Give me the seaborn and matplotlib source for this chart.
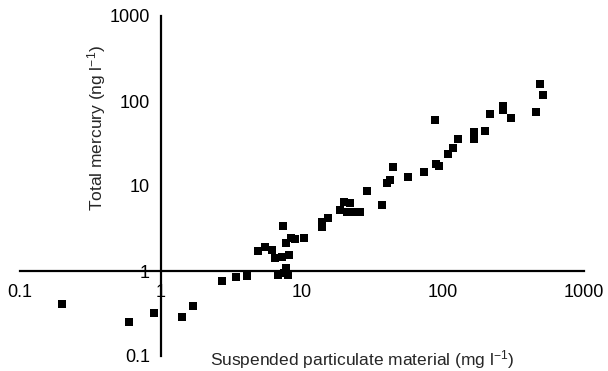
import matplotlib
matplotlib.use("Agg")
import matplotlib.pyplot as plt
import seaborn as sns
import pandas as pd

# Suspended particulate material (mg l-1)
spm = [0.198, 0.596, 0.897, 1.40, 1.69, 2.69, 3.39, 4.07, 6.8, 7.4, 7.7, 8.0,
       4.9, 5.47, 6.1, 6.44, 7.2, 8.1, 7.3, 7.7, 8.3, 8.9, 10.3,
       13.8, 15.3, 13.8, 18.6, 19.9, 21.9, 20.7, 23.0, 25.8, 28.8, 36.7,
       39.8, 42.0, 44.0, 56.3, 73.8, 88.2, 89.0, 93.5, 109, 117, 128.5,
       166, 166, 198.6, 215, 268, 268, 303, 457, 488, 509]
# Total mercury (ng l-1)
hg = [0.41, 0.25, 0.32, 0.29, 0.39, 0.76, 0.86, 0.87, 0.90, 0.94, 1.08, 0.90,
      1.73, 1.93, 1.77, 1.41, 1.47, 1.55, 3.41, 2.15, 2.45, 2.36, 2.43,
      3.8, 4.17, 3.3, 5.2, 6.5, 6.25, 4.9, 4.9, 4.9, 8.8, 6.0,
      10.9, 11.8, 16.6, 12.6, 14.5, 59.7, 18.2, 17.2, 23.6, 28.2, 35.7,
      35.7, 43.5, 44.7, 69.7, 88, 78, 63.6, 74.8, 157, 117]

tick_vals = [0.1, 1, 10, 100, 1000]
tick_labels = ["0.1", "1", "10", "100", "1000"]

sns.set_style("white")
plt.rcParams["font.family"] = ["Liberation Sans", "DejaVu Sans"]
plt.rcParams["mathtext.default"] = "regular"

df = pd.DataFrame({"spm": spm, "hg": hg})

fig = plt.figure(figsize=(6.08, 3.71), dpi=100)
ax = fig.add_axes([20 / 608, 15 / 371, 564 / 608, 340 / 371])

sns.scatterplot(data=df, x="spm", y="hg", marker="s", color="black",
                s=40, linewidth=0, ax=ax, zorder=3, clip_on=False)

ax.set_xscale("log")
ax.set_yscale("log")
ax.set_xlim(0.1, 1000)
ax.set_ylim(0.1, 1000)

for side in ["top", "right"]:
    ax.spines[side].set_visible(False)
ax.spines["left"].set_position(("data", 1))
ax.spines["bottom"].set_position(("data", 1))
for side in ["left", "bottom"]:
    ax.spines[side].set_linewidth(1.6)
    ax.spines[side].set_color("black")

ax.set_xticks(tick_vals)
ax.set_xticklabels(tick_labels)
ax.set_yticks(tick_vals)
ax.set_yticklabels(tick_labels)
ax.minorticks_off()
ax.tick_params(axis="both", which="major", direction="inout", length=9,
               width=1.5, color="black", labelsize=13, labelcolor="black")
ax.tick_params(axis="x", pad=5)
ax.tick_params(axis="y", pad=3.5)
for lab in ax.get_xticklabels() + ax.get_yticklabels():
    lab.set_bbox(dict(facecolor="white", edgecolor="none", pad=1.0))

ax.set_xlabel("Suspended particulate material (mg l$^{-1}$)", fontsize=12.5,
              ha="left", va="center")
ax.set_ylabel("Total mercury (ng l$^{-1}$)", fontsize=12.5,
              ha="center", va="center")
ax.xaxis.set_label_coords((210 - 20) / 564, (356 - 360) / 340)
ax.yaxis.set_label_coords((97 - 20) / 564, (356 - 127.5) / 340)
ax.set_facecolor("white")
fig.patch.set_facecolor("white")

fig.savefig("out.png", dpi=100)
